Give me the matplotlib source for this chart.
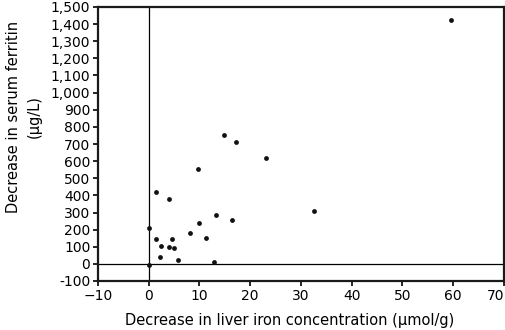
import matplotlib
matplotlib.use("Agg")
import matplotlib.pyplot as plt
from matplotlib.ticker import FuncFormatter

# Data (decrease in liver iron concentration, decrease in serum ferritin)
liver_iron = [59.5, 23.1, 14.8, 17.1, 9.7, 1.4, 4.0, 32.5, 13.3, 16.5, 10.0, 0.0,
              8.2, 11.3, 1.4, 4.6, 2.4, 4.0, 5.0, 2.2, 5.8, 12.9, 0.0]
ferritin = [1425, 620, 750, 710, 555, 420, 380, 308, 285, 258, 238, 210,
            180, 153, 143, 143, 103, 97, 93, 42, 25, 12, -8]

x_ticks = list(range(-10, 71, 10))
y_ticks = list(range(-100, 1501, 100))

plt.rcParams['font.family'] = ['DejaVu Sans']

fig = plt.figure(figsize=(5.06, 3.30), dpi=100)
ax = fig.add_axes([98/506, 1 - 281/330, (504 - 98)/506, (281 - 7)/330])

ax.axhline(0, color='black', linewidth=0.9, zorder=1)
ax.axvline(0, color='black', linewidth=0.9, zorder=1)
ax.scatter(liver_iron, ferritin, s=12, color='#111111', zorder=3, linewidths=0)

ax.set_xlim(-10, 70)
ax.set_ylim(-100, 1500)
ax.set_xticks(x_ticks)
ax.set_yticks(y_ticks)
ax.yaxis.set_major_formatter(FuncFormatter(lambda v, p: f"{int(v):,}"))
ax.tick_params(direction='out', length=3.5, width=1.2, labelsize=10, pad=2)
for s in ax.spines.values():
    s.set_linewidth(1.6)
    s.set_color('#1a1a1a')

fig.canvas.draw()
last = ax.get_xticklabels()[-1]
last.set_horizontalalignment('right')

fig.text(290/506, 1 - 320/330, "Decrease in liver iron concentration (\u03bcmol/g)",
         ha='center', va='center', fontsize=10.5)
fig.text(24/506, 1 - 117/330, "Decrease in serum ferritin\n(\u03bcg/L)",
         ha='center', va='center', rotation=90, multialignment='center',
         fontsize=10.5, linespacing=1.5)

fig.savefig("out.png", dpi=100)
